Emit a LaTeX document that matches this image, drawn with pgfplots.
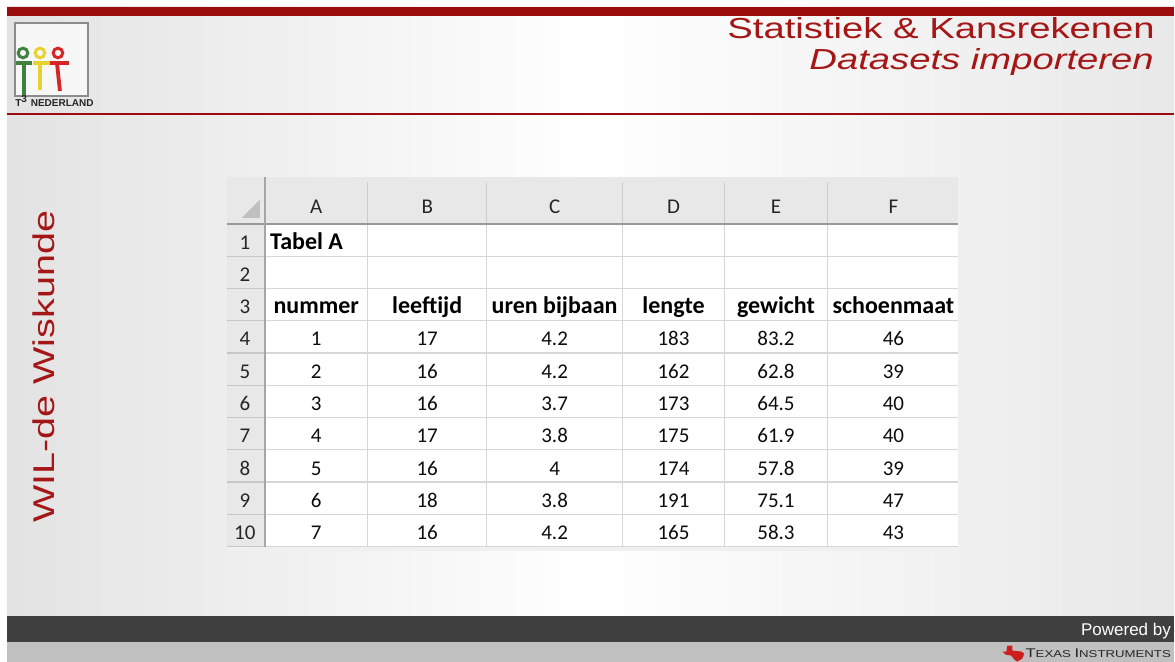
\documentclass[border=0pt]{standalone}
\usepackage{pgfplots}
\pgfplotsset{compat=1.18}
\usepackage{pgfplotstable}
\usepackage{fontspec}
\setmainfont{Liberation Sans}
\newfontfamily\cell{Carlito}
\newfontfamily\titlef[FakeStretch=1.32]{Liberation Sans}
\definecolor{barred}{RGB}{155,12,12}
\definecolor{titlered}{RGB}{165,22,22}
\definecolor{hdrgray}{RGB}{232,232,232}
\definecolor{gridgray}{RGB}{214,214,214}
\definecolor{footdark}{RGB}{64,64,64}
\definecolor{footlight}{RGB}{192,192,192}
\definecolor{lgreen}{RGB}{62,130,62}
\definecolor{lyellow}{RGB}{232,210,45}
\definecolor{lred}{RGB}{212,38,38}
\definecolor{tired}{RGB}{205,30,30}

\pgfplotstableread{
nummer leeftijd uren lengte gewicht schoenmaat
1 17 4.2 183 83.2 46
2 16 4.2 162 62.8 39
3 16 3.7 173 64.5 40
4 17 3.8 175 61.9 40
5 16 4 174 57.8 39
6 18 3.8 191 75.1 47
7 16 4.2 165 58.3 43
}\tabA

\newcommand{\cellsize}{\fontsize{10.5}{12}\selectfont}
\newcommand{\boldsize}{\fontsize{12}{14}\selectfont}
\newcommand{\col}[2]{%
  \addplot[draw=none, mark=none, nodes near coords, point meta=explicit symbolic,
    every node near coord/.append style={anchor=base, inner sep=0pt, font=\cell\cellsize, text=black!95}]
    table[x expr=#1, y expr={217+32.3*(\coordindex+4)}, meta=#2] {\tabA};}

\begin{document}
\begin{tikzpicture}
\begin{axis}[scale only axis, width=587.5pt, height=331pt,
  xmin=0, xmax=1175, ymin=0, ymax=662, y dir=reverse,
  hide axis, clip=false]
% background
\fill[white] (0,0) rectangle (1175,662);
\shade[left color=black!11, right color=black!9, middle color=white] (7,7) rectangle (1175,616);
\fill[barred] (7,7) rectangle (1175,16);
\draw[barred, line width=0.8pt] (7,114) -- (1175,114);
% logo
\draw[black!45, line width=0.6pt, fill=black!3] (15,23) rectangle (88,96);
\draw[lgreen, line width=1.9pt] (16,63) -- (32,63) (24,63) -- (24,95);
\draw[lgreen, line width=1.5pt] (23,53) circle[radius=2.4pt];
\draw[lyellow, line width=1.9pt] (33,63) -- (50,63) (40,63) -- (40,90);
\draw[lyellow, line width=1.5pt] (40,53) circle[radius=2.4pt];
\draw[lred, line width=1.9pt] (50,63) -- (69,63) (57,63) -- (60,91);
\draw[lred, line width=1.5pt] (58,53) circle[radius=2.4pt];
\node[anchor=base west, inner sep=0pt, text=black!85, font=\bfseries\fontsize{5}{6}\selectfont] at (15,107) {T\textsuperscript{3} NEDERLAND};
% titles
\node[anchor=base east, inner sep=0pt, text=titlered, font=\titlef\fontsize{14.5}{17}\selectfont] at (1156,39) {Statistiek \& Kansrekenen};
\node[anchor=base east, inner sep=0pt, text=titlered, font=\titlef\itshape\fontsize{14.5}{17}\selectfont] at (1155,70) {Datasets importeren};
\node[rotate=90, anchor=center, inner sep=0pt, text=titlered, font=\titlef\fontsize{15}{18}\selectfont] at (44,367) {WIL-de Wiskunde};
% table frame
\fill[black!6] (230,180) rectangle (963,551);
\fill[white] (227,177) rectangle (959,547);
\fill[hdrgray] (227,177) rectangle (959,224);
\fill[hdrgray] (227,224) rectangle (265,547);
\pgfplotsinvokeforeach{1,...,10}{
  \draw[gridgray, line width=0.6pt] (265,{224+32.3*#1}) -- (959,{224+32.3*#1});
  \draw[black!22, line width=0.6pt] (227,{224+32.3*#1}) -- (265,{224+32.3*#1});
  \node[anchor=base, inner sep=0pt, text=black!85, font=\cell\cellsize] at (245,{217+32.3*#1}) {#1};
}
\pgfplotsinvokeforeach{368,487,623,725,828}{
  \draw[gridgray, line width=0.6pt] (#1,224) -- (#1,547);
  \draw[black!20, line width=0.6pt] (#1,182) -- (#1,224);
}
\draw[black!40, line width=0.7pt] (227,224) -- (959,224);
\draw[black!35, line width=0.7pt] (265,177) -- (265,547);
\fill[black!25] (242,218) -- (260,218) -- (260,200) -- cycle;
% column letters
\node[anchor=base, inner sep=0pt, text=black!85, font=\cell\cellsize] at (316.5,214) {A};
\node[anchor=base, inner sep=0pt, text=black!85, font=\cell\cellsize] at (427.5,214) {B};
\node[anchor=base, inner sep=0pt, text=black!85, font=\cell\cellsize] at (555,214) {C};
\node[anchor=base, inner sep=0pt, text=black!85, font=\cell\cellsize] at (674,214) {D};
\node[anchor=base, inner sep=0pt, text=black!85, font=\cell\cellsize] at (776.5,214) {E};
\node[anchor=base, inner sep=0pt, text=black!85, font=\cell\cellsize] at (894,214) {F};
% row 1 and row 3
\node[anchor=base west, inner sep=0pt, text=black, font=\cell\bfseries\boldsize] at (270,249.3) {Tabel A};
\node[anchor=base, inner sep=0pt, text=black, font=\cell\bfseries\boldsize] at (316.5,313.9) {nummer};
\node[anchor=base, inner sep=0pt, text=black, font=\cell\bfseries\boldsize] at (427.5,313.9) {leeftijd};
\node[anchor=base, inner sep=0pt, text=black, font=\cell\bfseries\boldsize] at (555,313.9) {uren bijbaan};
\node[anchor=base, inner sep=0pt, text=black, font=\cell\bfseries\boldsize] at (674,313.9) {lengte};
\node[anchor=base, inner sep=0pt, text=black, font=\cell\bfseries\boldsize] at (776.5,313.9) {gewicht};
\node[anchor=base, inner sep=0pt, text=black, font=\cell\bfseries\boldsize] at (894,313.9) {schoenmaat};
% data
\col{316.5}{nummer}
\col{427.5}{leeftijd}
\col{555}{uren}
\col{674}{lengte}
\col{776.5}{gewicht}
\col{894}{schoenmaat}
% footer
\fill[footdark] (7,616) rectangle (1175,642);
\fill[footlight] (7,642) rectangle (1175,662);
\node[anchor=base east, inner sep=0pt, text=white, font=\fontsize{8.5}{10}\selectfont] at (1172,636) {Powered by};
\node[anchor=base east, inner sep=0pt, text=black!85, font=\titlef] at (1172,658) {\fontsize{6.3}{7}\selectfont T\fontsize{5}{6}\selectfont EXAS \fontsize{6.3}{7}\selectfont I\fontsize{5}{6}\selectfont NSTRUMENTS};
\fill[tired] (1008,646) -- (1013,646) -- (1013,651) -- (1022,652) -- (1025,654) -- (1023,659) -- (1018,662) -- (1015,660) -- (1012,656) -- (1006,655) -- (1003,652) -- (1007,652) -- cycle;
\end{axis}
\end{tikzpicture}
\end{document}
